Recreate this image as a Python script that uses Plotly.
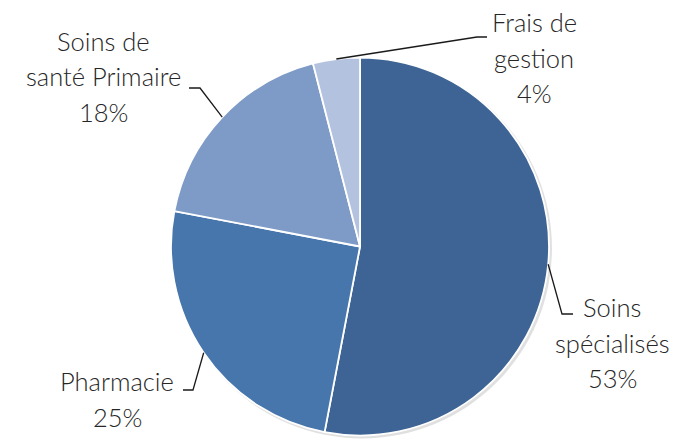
import math
import plotly.graph_objects as go

# ---- data ----
categories = ["Soins spécialisés", "Pharmacie", "Soins de santé Primaire", "Frais de gestion"]
values = [53, 25, 18, 4]
label_lines = [
    ["Soins", "spécialisés", "53%"],
    ["Pharmacie", "25%"],
    ["Soins de", "santé Primaire", "18%"],
    ["Frais de", "gestion", "4%"],
]
colors = ["#3d6494", "#4776ad", "#7e9bc7", "#b3c2de"]

# ---- layout constants (pixels) ----
W, H = 689, 441
CX, CY, R = 360, 246.5, 189
FONT = "Lato"
FSIZE = 25.5
LINE_H = 35.5
TEXT_COLOR = "#262626"

# label layout: text center x, first line center y, elbow point, end of horizontal
label_pos = [
    dict(x=612, y=307, elbow=(562, 314), end=(573, 314)),
    dict(x=117, y=381, elbow=(193, 390), end=(183, 390)),
    dict(x=103, y=41, elbow=(200, 88), end=(189, 88)),
    dict(x=534, y=22, elbow=(477, 37), end=(487, 37)),
]

def px(x):
    return x / W

def py(y):
    return 1 - y / H

fig = go.Figure()
fig.add_trace(go.Pie(
    labels=categories, values=values, sort=False, direction="clockwise",
    rotation=0, textinfo="none", hoverinfo="label+percent",
    marker=dict(colors=colors, line=dict(color="white", width=1.8)),
    domain=dict(x=[px(CX - R), px(CX + R)], y=[py(CY + R), py(CY - R)]),
    showlegend=False,
))

shapes = []
annotations = []
# subtle shadow
shapes.append(dict(type="circle", xref="paper", yref="paper", layer="below",
                   x0=px(CX - R + 1), x1=px(CX + R + 3), y0=py(CY + R + 3), y1=py(CY - R + 1),
                   fillcolor="rgba(0,0,0,0.12)", line=dict(width=0)))

total = sum(values)
cum = 0
for i, v in enumerate(values):
    mid = (cum + v / 2) / total * 2 * math.pi
    cum += v
    ex = CX + R * math.sin(mid)
    ey = CY - R * math.cos(mid)
    lp = label_pos[i]
    path = "M {} {} L {} {} L {} {}".format(
        px(ex), py(ey), px(lp["elbow"][0]), py(lp["elbow"][1]),
        px(lp["end"][0]), py(lp["end"][1]))
    shapes.append(dict(type="path", xref="paper", yref="paper", path=path,
                       line=dict(color="#1a1a1a", width=1.3)))
    for j, t in enumerate(label_lines[i]):
        annotations.append(dict(
            text=t, x=px(lp["x"]), y=py(lp["y"] + j * LINE_H),
            xref="paper", yref="paper", xanchor="center", yanchor="middle",
            showarrow=False, font=dict(family=FONT, size=FSIZE, color=TEXT_COLOR, weight=300)))

fig.update_layout(
    width=W, height=H, margin=dict(l=0, r=0, t=0, b=0),
    paper_bgcolor="white", plot_bgcolor="white",
    shapes=shapes, annotations=annotations,
)
fig.write_html("out.html", config={"displayModeBar": False},
               post_script="document.body.style.margin='0';")
